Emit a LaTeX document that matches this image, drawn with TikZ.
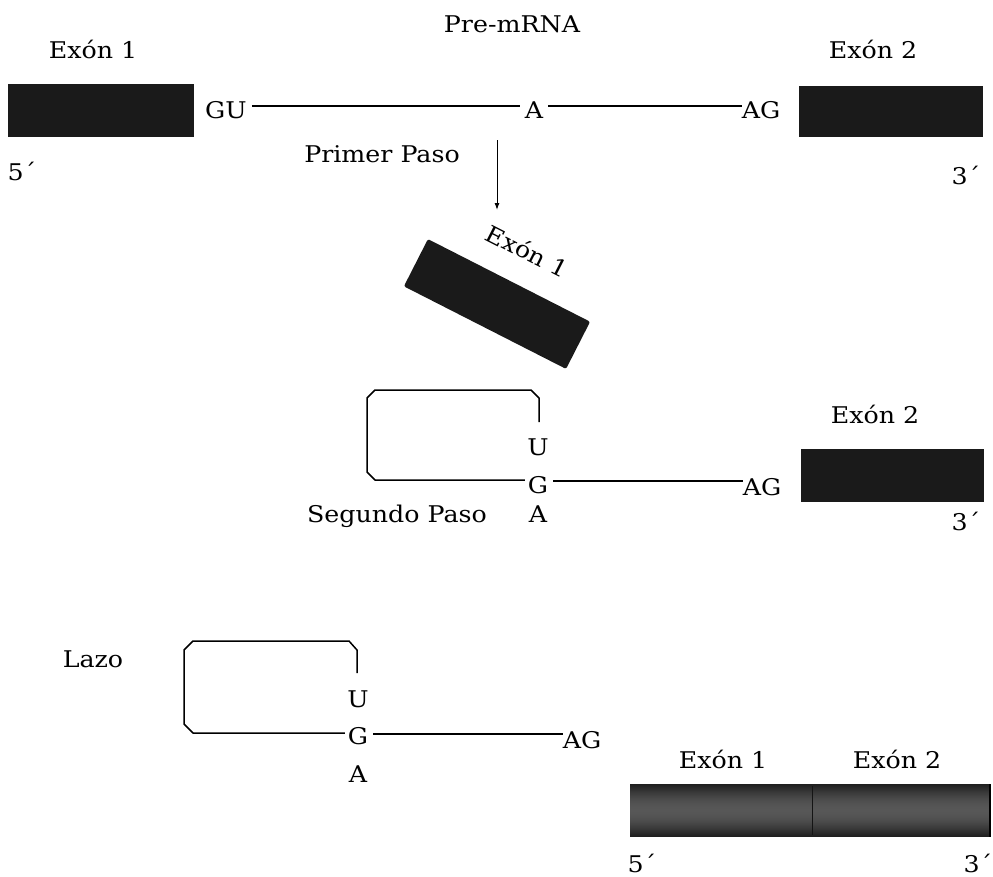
\documentclass[tikz,border=0pt]{standalone}
\usepackage{fontspec}
\setmainfont{DejaVu Serif}[FakeStretch=1.1]
\usetikzlibrary{arrows.meta}
\definecolor{exonfill}{HTML}{1A1A1A}
\tikzset{
  lbl/.style={font=\fontsize{23}{27}\selectfont, inner sep=0pt, outer sep=5pt,
              text height=16pt, text depth=0pt, anchor=base},
  exon/.style={fill=exonfill, draw=none},
  strand/.style={line width=1.5pt, black},
  loopline/.style={line width=1.5pt, black, line join=round},
}
\begin{document}
\begin{tikzpicture}[x=1pt, y=-1pt]
\useasboundingbox (0,0) rectangle (993,876);

% ---------- pre-mRNA ----------
\node[lbl] (title) at (512,32) {Pre-mRNA};
\node[lbl] (e1lab) at (93,58) {Exón 1};
\node[lbl] (e2lab) at (873,58) {Exón 2};
\fill[exon] (8,84) rectangle (194,137);
\fill[exon] (799,86) rectangle (983,137);
\node[lbl] (GU) at (226,118) {GU};
\node[lbl] (A1) at (534,118) {A};
\node[lbl] (AG1) at (761,118) {AG};
\node[lbl] (p5a) at (22,180) {5´};
\node[lbl] (p3a) at (966,184) {3´};
\draw[strand] ([yshift=4pt]GU.east) -- ([yshift=4pt]A1.west);
\draw[strand] ([yshift=4pt]A1.east) -- ([yshift=4pt,xshift=5pt]AG1.west);

% ---------- first step ----------
\node[lbl] (paso1) at (382,162) {Primer Paso};
\coordinate (arrS) at (497,140);
\coordinate (arrE) at (497,210);
\draw[line width=1pt, -{Latex[length=7pt,width=5pt]}] (arrS) -- (arrE);

\node[exon, rotate=-27, minimum width=182pt, minimum height=53pt,
      rounded corners=2pt] (freeexon) at (497,304) {};
\node[lbl, rotate=-27, anchor=center, outer sep=0pt] (freelab) at (527,252) {Exón 1};

% lariat intermediate
\node[lbl] (U2) at (538,455) {U};
\node[lbl] (G2) at (538,493) {G};
\node[lbl] (A2) at (538,522) {A};
\node[lbl] (AG2) at (762,495) {AG};
\node[lbl] (e2labB) at (875,423) {Exón 2};
\fill[exon] (801,449) rectangle (984,502);
\node[lbl] (p3b) at (966,530) {3´};
\node[lbl] (paso2) at (397,522) {Segundo Paso};
\draw[loopline] (539,422) -- (539,398) -- (531,390) -- (375,390) -- (367,398)
  -- (367,472) -- (375,480) -- ([yshift=5pt,xshift=2pt]G2.west);
\draw[strand] ([yshift=4pt]G2.east) -- ([yshift=6pt,xshift=5pt]AG2.west);

% ---------- products ----------
\node[lbl] (lazo) at (93,667) {Lazo};
\node[lbl] (U3) at (358,707) {U};
\node[lbl] (G3) at (358,744) {G};
\node[lbl] (A3) at (358,782) {A};
\node[lbl] (AG3) at (582,748) {AG};
\draw[loopline] (357,673) -- (357,650) -- (349,641) -- (193,641) -- (184,650)
  -- (184,724) -- (193,733) -- ([yshift=3pt,xshift=2pt]G3.west);
\draw[strand] ([yshift=2pt]G3.east) -- ([yshift=6pt,xshift=5pt]AG3.west);

% spliced mRNA: dark edges, grey core
\foreach \i in {0,...,52}{
  \pgfmathsetmacro{\lev}{88-22*sin(180*\i/52)}
  \fill[black!\lev] (630,784+\i) rectangle (990,785.2+\i);
}
\draw[black!92, line width=1pt] (812,786) -- (812,835);
\draw[black, line width=1.5pt] (990,784) -- (990,837);
\node[lbl] (e1labC) at (723,768) {Exón 1};
\node[lbl] (e2labC) at (897,768) {Exón 2};
\node[lbl] (p5c) at (642,872) {5´};
\node[lbl] (p3c) at (978,872) {3´};
\end{tikzpicture}
\end{document}
